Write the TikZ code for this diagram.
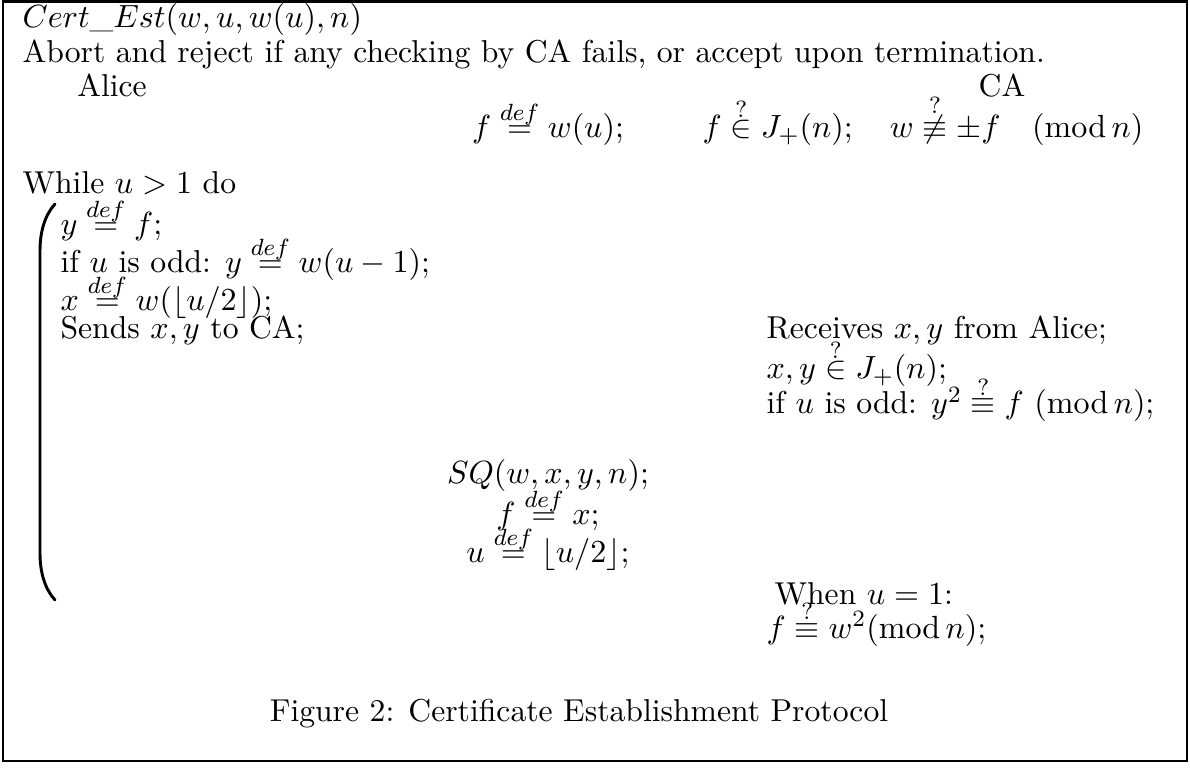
\documentclass[tikz,border=0pt]{standalone}
\usepackage{amssymb,amsmath}
\usepackage{tikz}

\tikzset{
  line/.style={inner sep=0pt, anchor=base west},
  midline/.style={inner sep=0pt, anchor=base},
  brack/.style={line width=1pt, line cap=round}
}
% stacked relation: small #1 set close above #2
\newcommand{\stk}[3]{\mathrel{\sbox0{$#2$}\sbox2{$\scriptstyle #1$}%
  \ifdim\wd2>\wd0 \dimen0=\wd2 \else \dimen0=\wd0 \fi
  \rlap{\hbox to\dimen0{\hss\raisebox{\dimexpr\ht0+#3\relax}{\usebox2}\hss}}%
  \hbox to\dimen0{\hss\usebox0\hss}}}
\newcommand{\defeq}{\stk{def}{=}{2.1pt}}
\newcommand{\qin}{\stk{?}{\in}{1.1pt}}
\newcommand{\qeq}{\stk{?}{\equiv}{1.1pt}}
\newcommand{\qneq}{\stk{?}{\not\equiv}{0.6pt}}
\newcommand{\md}{(\mathrm{mod}\,n)}

\begin{document}
\begin{tikzpicture}[x=0.3412pt,y=-0.3412pt,font=\fontsize{10.8}{13}\selectfont]
\useasboundingbox (0,0) rectangle (1190,770);
\draw[line width=0.7pt] (3,1.5) rectangle (1187,761);

% heading
\node[line] (title) at (22,28) {$Cert\_Est(w,u,w(u),n)$};
\node[line] (abort) at (22,63) {Abort and reject if any checking by CA fails, or accept upon termination.};
\node[midline] (alice) at (112,97) {Alice};
\node[midline] (ca) at (1002,97) {CA};

% first exchange
\node[midline] (fw) at (548,138) {$f \defeq w(u);$};
\node[line] (fcheck) at (702,138) {$f \qin J_+(n);\quad w \qneq \pm f\quad \md$};

% loop
\node[line] (while) at (22,194) {While $u>1$ do};
\node[line] (a1) at (60,235) {$y \defeq f;$};
\node[line] (a2) at (60,273) {if $u$ is odd: $y \defeq w(u-1);$};
\node[line] (a3) at (60,311) {$x \defeq w(\lfloor u/2\rfloor);$};
\node[line] (a4) at (60,339) {Sends $x,y$ to CA;};

\node[line] (c1) at (766,339) {Receives $x,y$ from Alice;};
\node[line] (c2) at (766,379) {$x,y \qin J_+(n);$};
\node[line] (c3) at (766,414) {if $u$ is odd: $y^2 \qeq f\ \md;$};

\node[midline] (m1) at (548,484) {$SQ(w,x,y,n);$};
\node[midline] (m2) at (548,525) {$f \defeq x;$};
\node[midline] (m3) at (548,563) {$u \defeq \lfloor u/2\rfloor;$};

% big left parenthesis
\draw[brack] (55,204) .. controls (45,215) and (40,231) .. (40,251)
  -- (40,553) .. controls (40,573) and (45,589) .. (55,600);

% final check
\node[line] (c4) at (774,604) {When $u=1$:};
\node[line] (c5) at (766,638) {$f \qeq w^2\md;$};

\node[midline] (cap) at (579,721) {Figure 2: Certificate Establishment Protocol};
\end{tikzpicture}
\end{document}
